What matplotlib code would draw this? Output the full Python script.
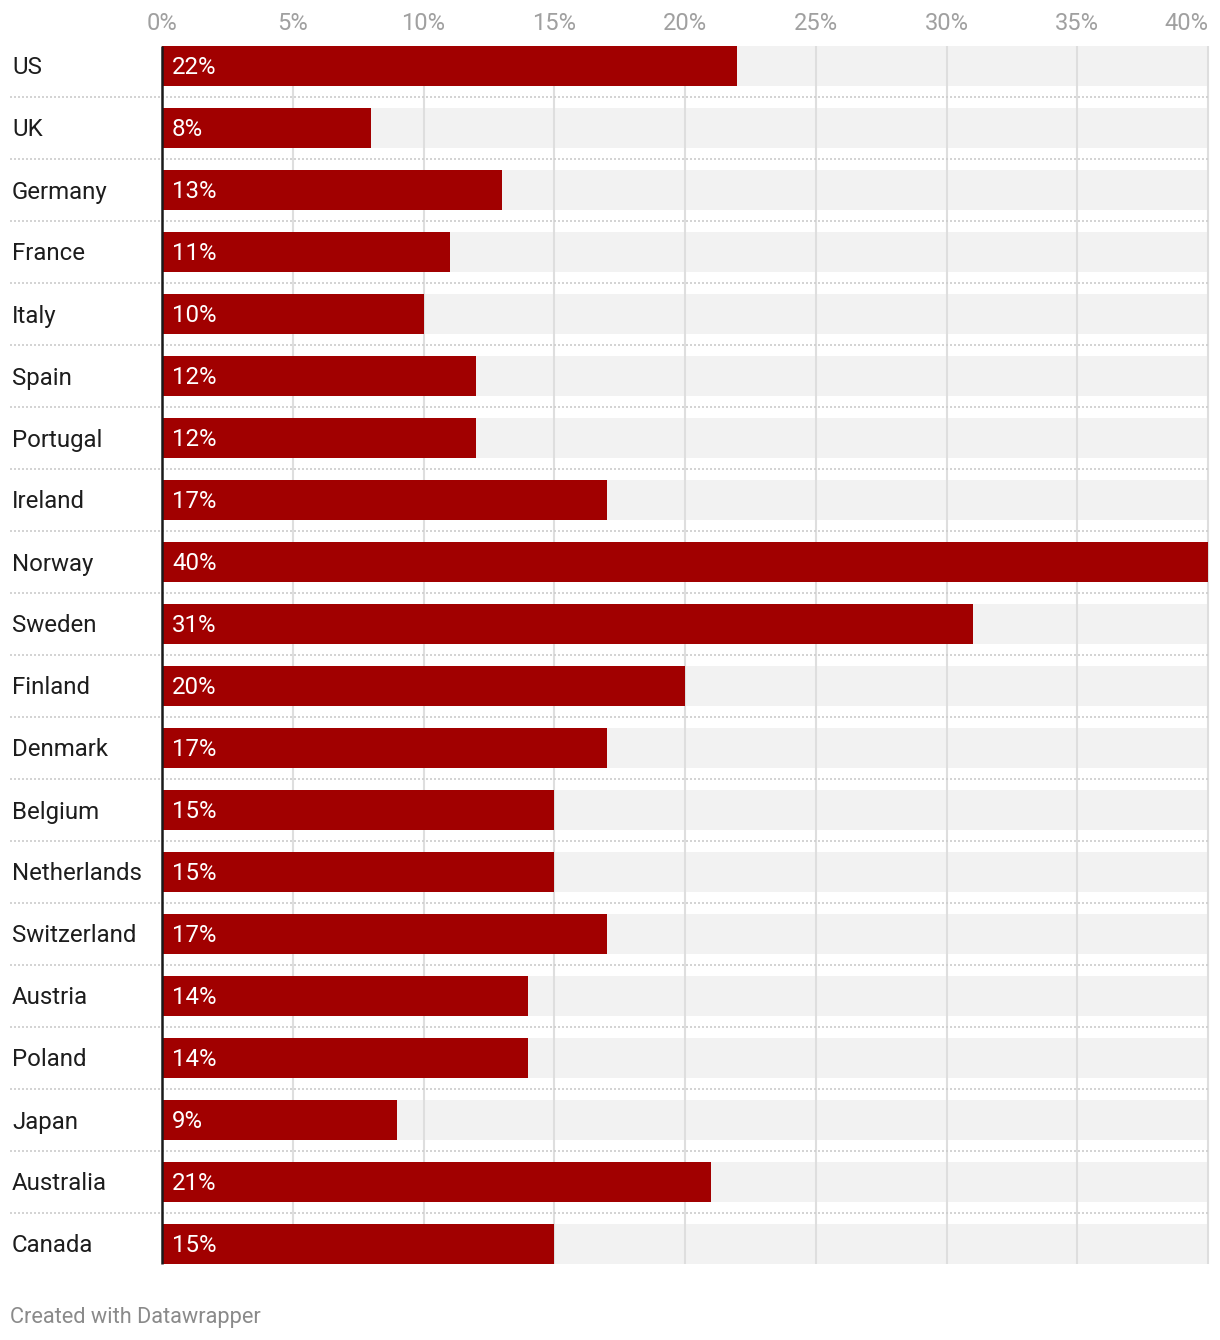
import matplotlib
matplotlib.use("Agg")
import matplotlib.pyplot as plt

countries = ["US", "UK", "Germany", "France", "Italy", "Spain", "Portugal", "Ireland",
             "Norway", "Sweden", "Finland", "Denmark", "Belgium", "Netherlands",
             "Switzerland", "Austria", "Poland", "Japan", "Australia", "Canada"]
values = [22, 8, 13, 11, 10, 12, 12, 17, 40, 31, 20, 17, 15, 15, 17, 14, 14, 9, 21, 15]
ticks = [0, 5, 10, 15, 20, 25, 30, 35, 40]
tick_labels = ["0%", "5%", "10%", "15%", "20%", "25%", "30%", "35%", "40%"]
xmax = 40

plt.rcParams['font.family'] = ['Roboto', 'DejaVu Sans']

W, H = 1220, 1340
fig = plt.figure(figsize=(W / 100, H / 100), dpi=100)
left_px, right_px = 162, 1208
top_px, bot_px = 35, 1275
ax = fig.add_axes([left_px / W, (H - bot_px) / H, (right_px - left_px) / W, (bot_px - top_px) / H])
ax.set_xlim(0, xmax)
n = len(countries)
ax.set_ylim(n - 0.5, -0.5)
ax.axis("off")

bh = 40 / 62
ys = list(range(n))
# background bars
ax.barh(ys, [xmax] * n, height=bh, left=0, color="#f2f2f2", zorder=1)
# gridlines
y0, y1 = -bh / 2, n - 1 + bh / 2
for t in ticks[1:]:
    ax.plot([t, t], [y0, y1], color="#dedede", lw=1.5, zorder=2, clip_on=False, solid_capstyle="butt")
# dotted separators
px_per_unit = (right_px - left_px) / xmax
x_start = -(left_px - 10) / px_per_unit
for i in range(n - 1):
    ax.plot([x_start, xmax], [i + 0.5, i + 0.5], color="#cccccc", lw=1.2,
            linestyle=(0, (1.2, 1.2)), zorder=2.5, clip_on=False)
# value bars
ax.barh(ys, values, height=bh, left=0, color="#a10000", zorder=3)
# zero line
ax.plot([0, 0], [y0, y1], color="#1a1a1a", lw=1.8, zorder=4, clip_on=False, solid_capstyle="butt")

fs = 17.3
dy = 2 / 62
lab_x = -(left_px - 12) / px_per_unit
val_x = 10 / px_per_unit
for i, (c, v) in enumerate(zip(countries, values)):
    ax.text(lab_x, i + dy, c, ha="left", va="center", fontsize=fs, color="#1d1d1d", zorder=5)
    ax.text(val_x, i + dy, f"{v}%", ha="left", va="center", fontsize=fs, color="white", zorder=5)

tick_y = -0.5 - (top_px - 24) / 62
for t, tl in zip(ticks, tick_labels):
    ha = "right" if t == xmax else "center"
    ax.text(t, tick_y, tl, ha=ha, va="center", fontsize=17, color="#a0a0a0", clip_on=False)

fig.text(10 / W, 1 - 1318 / H, "Created with Datawrapper", ha="left", va="center",
         fontsize=15.7, color="#8a8a8a")

fig.savefig("out.png", dpi=100)
